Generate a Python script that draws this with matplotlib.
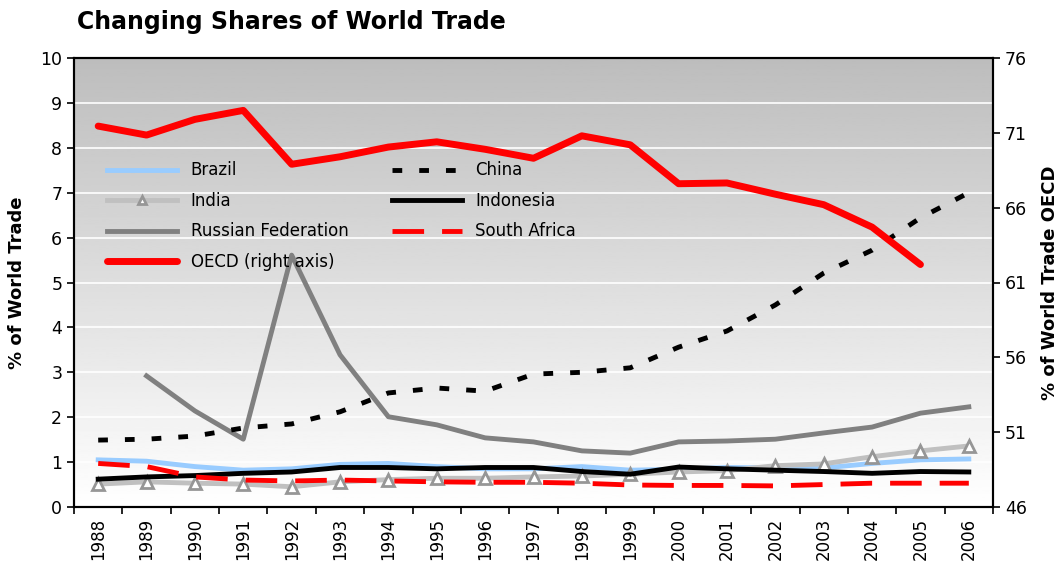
import matplotlib
matplotlib.use('Agg')
import matplotlib.pyplot as plt
import numpy as np

years = [str(y) for y in range(1988, 2007)]

brazil = [1.05, 1.02, 0.90, 0.82, 0.85, 0.95, 0.97, 0.90, 0.85, 0.85,
          0.90, 0.82, 0.84, 0.88, 0.87, 0.87, 0.97, 1.05, 1.07]
china = [1.49, 1.51, 1.58, 1.76, 1.85, 2.12, 2.54, 2.65, 2.58, 2.96,
         3.00, 3.10, 3.56, 3.92, 4.50, 5.21, 5.72, 6.44, 7.00]
india = [0.51, 0.56, 0.53, 0.51, 0.45, 0.56, 0.61, 0.64, 0.64, 0.67,
         0.69, 0.73, 0.78, 0.81, 0.92, 0.96, 1.12, 1.25, 1.36]
indonesia = [0.62, 0.67, 0.70, 0.75, 0.78, 0.88, 0.88, 0.85, 0.88, 0.88,
             0.79, 0.73, 0.89, 0.85, 0.82, 0.79, 0.75, 0.79, 0.78]
russia = [np.nan, 2.92, 2.14, 1.51, 5.61, 3.39, 2.01, 1.83, 1.54, 1.45,
          1.25, 1.20, 1.45, 1.47, 1.51, 1.65, 1.78, 2.09, 2.23]
south_africa = [0.97, 0.90, 0.67, 0.60, 0.58, 0.60, 0.58, 0.56, 0.55, 0.55,
                0.53, 0.49, 0.48, 0.48, 0.47, 0.50, 0.53, 0.53, 0.53]
oecd = [71.45, 70.85, 71.9, 72.5, 68.9, 69.4, 70.05, 70.4, 69.9, 69.3,
        70.8, 70.2, 67.6, 67.65, 66.9, 66.2, 64.7, 62.2, np.nan]

x = np.arange(len(years))

fig = plt.figure(figsize=(10.58, 5.69), dpi=100)
ax = fig.add_axes([74/1058, 1 - 507/569, (993 - 74)/1058, (507 - 58)/569])

# grey (top) to white (bottom) background
grad = np.linspace(0.74, 1.0, 256).reshape(-1, 1)
ax.imshow(grad, cmap='gray', vmin=0, vmax=1, aspect='auto', origin='upper',
          extent=(0, 1, 0, 1), transform=ax.transAxes, zorder=0)

ax.set_axisbelow(True)
ax.yaxis.grid(True, color='white', linewidth=1.2)

l_brazil, = ax.plot(x, brazil, color='#99ccff', lw=3.5, zorder=3, label='Brazil')
l_india, = ax.plot(x, india, color='#c0c0c0', lw=3.5, marker='^', markersize=8,
                   markerfacecolor='white', markeredgecolor='#969696',
                   markeredgewidth=2, zorder=3, label='India')
l_russia, = ax.plot(x, russia, color='#808080', lw=3.5, zorder=3,
                    label='Russian Federation')
l_indo, = ax.plot(x, indonesia, color='black', lw=3.5, zorder=4, label='Indonesia')
l_sa, = ax.plot(x, south_africa, color='red', lw=3.5, zorder=4,
                linestyle=(0, (6.5, 3.7)), label='South Africa')
l_china, = ax.plot(x, china, color='black', lw=3.5, zorder=4,
                   linestyle=(0, (2.0, 3.5)), label='China')

ax.set_xlim(-0.5, len(years) - 0.5)
ax.set_ylim(0, 10)
ax.set_yticks(range(0, 11))
ax.set_xticks(x)
ax.set_xticklabels(years, rotation=90, fontsize=12)
ax.set_xticks(np.arange(-0.5, len(years)), minor=True)
ax.tick_params(axis='x', which='major', length=0, pad=8)
ax.tick_params(axis='x', which='minor', length=5, width=1.2, direction='out')
ax.tick_params(axis='y', labelsize=12.5, length=5, width=1.2)
ax.set_ylabel('% of World Trade', fontsize=13, fontweight='bold', labelpad=10)

ax2 = ax.twinx()
l_oecd, = ax2.plot(x, oecd, color='red', lw=5, solid_capstyle='round',
                   zorder=3, label='OECD (right axis)')
ax2.set_ylim(46, 76)
ax2.set_yticks(range(46, 77, 5))
ax2.tick_params(axis='y', labelsize=12.5, length=5, width=1.2)
ax2.set_ylabel('% of World Trade OECD', fontsize=13, fontweight='bold',
               labelpad=10)

for a in (ax, ax2):
    for s in a.spines.values():
        s.set_linewidth(1.5)
        s.set_color('black')

ax2.legend(handles=[l_brazil, l_india, l_russia, l_oecd, l_china, l_indo, l_sa],
           ncol=2, frameon=False, fontsize=12, handlelength=4.2,
           labelspacing=0.75, columnspacing=2.6, handletextpad=0.8,
           loc='upper left', bbox_to_anchor=(0.02, 0.803), markerscale=0.7)

fig.text(77/1058, 1 - 22/569, 'Changing Shares of World Trade', fontsize=17,
         fontweight='bold', va='center', ha='left')

fig.savefig('out.png', dpi=100)
